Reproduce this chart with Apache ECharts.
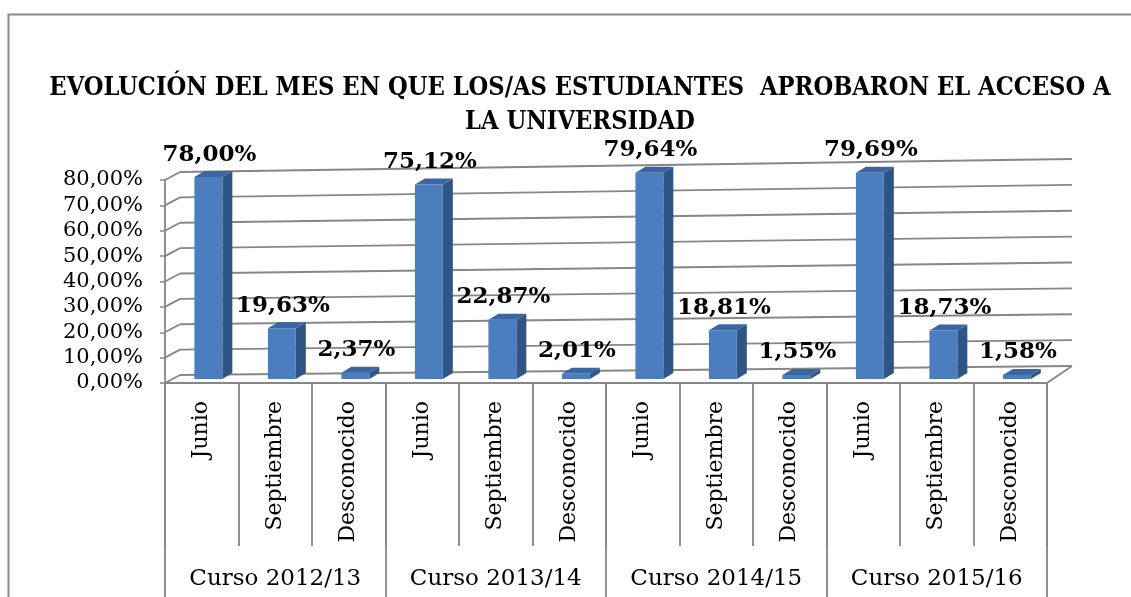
<!DOCTYPE html>
<html>
<head>
<meta charset="utf-8">
<script src="https://cdn.jsdelivr.net/npm/echarts@6/dist/echarts.min.js"></script>
<style>
html,body{margin:0;padding:0;background:#fff;}
#chart{width:1131px;height:597px;}
</style>
</head>
<body>
<div id="chart"></div>
<script>
// datos del grafico
var meses = ['Junio','Septiembre','Desconocido','Junio','Septiembre','Desconocido','Junio','Septiembre','Desconocido','Junio','Septiembre','Desconocido'];
var cursos = ['Curso 2012/13','Curso 2013/14','Curso 2014/15','Curso 2015/16'];
var porcentajes = [78.00,19.63,2.37,75.12,22.87,2.01,79.64,18.81,1.55,79.69,18.73,1.58];
var marcasY = [0,10,20,30,40,50,60,70,80];

var fuente = "'DejaVu Serif',serif";
var fuenteTitulo = "'DejaVu Serif Condensed','DejaVu Serif',serif";
var gris = '#868686';

var fmt = function(v){
	return v.toFixed(2).replace('.', ',') + '%';
};

//punto de la pared del fondo (perspectiva aproximada)
var fondo = function(cs, x, y, v){
	var t = (x - cs.x) / cs.width;
	return [x + 15 + 10*t, y - 8 - t*(9 + 4*v/80)];
};

var pared = function(params, api){
	var cs = params.coordSys;
	var v = api.value(0);
	var y = api.coord([0, v])[1];
	var x0 = cs.x, x1 = cs.x + cs.width;
	var bl = fondo(cs, x0, y, v), br = fondo(cs, x1, y, v);
	var hijos = [
		{type:'line', shape:{x1:bl[0], y1:bl[1], x2:br[0], y2:br[1]}, style:{stroke:gris, lineWidth:2}},
		{type:'line', shape:{x1:x0, y1:y, x2:bl[0], y2:bl[1]}, style:{stroke:gris, lineWidth:1.8}}
	];
	if(v == 0){
		hijos.push({type:'line', shape:{x1:x1, y1:y, x2:br[0], y2:br[1]}, style:{stroke:gris, lineWidth:1.8}});
	}
	return {type:'group', children:hijos};
};

var barra3d = function(params, api){
	var i = api.value(0);
	var v = api.value(1);
	var p0 = api.coord([i, 0]);
	var p1 = api.coord([i, v]);
	var bw = api.size([1, 0])[0];
	var w = bw*0.38;
	var x = p0[0] - w/2 + bw*0.09;
	var dx = 10, dy = -6;
	//las barras estan a media profundidad: base algo mas arriba y escala un poco mayor
	var yb = p0[1] - 4;
	var yt = yb - (p0[1] - p1[1])*1.02;
	return {type:'group', children:[
		{type:'polygon', shape:{points:[[x+w,yt],[x+w+dx,yt+dy],[x+w+dx,yb+dy],[x+w,yb]]}, style:{fill:'#2f5587'}},
		{type:'polygon', shape:{points:[[x,yt],[x+dx,yt+dy],[x+w+dx,yt+dy],[x+w,yt]]}, style:{fill:'#3b66a2'}},
		{type:'rect', shape:{x:x, y:yt, width:w, height:yb-yt}, style:{fill:'#4a7ebf'}},
		{type:'text', x:x + w/2 + 1, y:yt - 11, style:{text:fmt(v), font:'bold 23px ' + fuente, fill:'#000', align:'center', verticalAlign:'bottom'}}
	]};
};

var option = {
	animation:false,
	title:{
		text:'EVOLUCIÓN DEL MES EN QUE LOS/AS ESTUDIANTES  APROBARON EL ACCESO A\nLA UNIVERSIDAD',
		left:575,
		top:66,
		textAlign:'center',
		textStyle:{fontFamily:fuenteTitulo, fontWeight:'bold', fontSize:25.2, lineHeight:34, color:'#000'}
	},
	graphic:[{
		type:'rect', left:6, top:12, shape:{width:1140, height:640},
		style:{fill:'none', stroke:'#8a8a8a', lineWidth:2}, silent:true
	}],
	grid:{left:165, right:84, top:180, bottom:214},
	xAxis:[{
		type:'category',
		data:meses,
		axisLine:{show:true, lineStyle:{color:gris, width:1.8}},
		axisTick:{show:true, interval:0, length:163, lineStyle:{color:gris, width:1.8}},
		axisLabel:{interval:0, rotate:90, margin:18, fontSize:22, fontFamily:fuente, color:'#000'}
	},{
		type:'category',
		data:cursos,
		position:'bottom',
		axisLine:{show:false},
		axisTick:{show:true, interval:0, length:240, lineStyle:{color:gris, width:1.8}},
		axisLabel:{interval:0, margin:185, fontSize:23, fontFamily:fuente, color:'#000'}
	}],
	yAxis:{
		type:'value',
		min:0, max:80, interval:10,
		axisLine:{show:true, lineStyle:{color:gris, width:1.8}},
		axisTick:{show:true, length:5, lineStyle:{color:gris, width:1.5}},
		splitLine:{show:false},
		axisLabel:{margin:22, fontSize:21, fontFamily:fuente, color:'#000', formatter:function(v){return fmt(v);}}
	},
	series:[{
		type:'custom',
		renderItem:pared,
		data:marcasY.map(function(v){return [v];}),
		encode:{y:0},
		z:1,
		silent:true
	},{
		type:'custom',
		renderItem:barra3d,
		data:porcentajes.map(function(v, i){return [i, v];}),
		encode:{x:0, y:1},
		z:3
	}]
};

var grafico = echarts.init(document.getElementById('chart'));
grafico.setOption(option);
</script>
</body>
</html>
